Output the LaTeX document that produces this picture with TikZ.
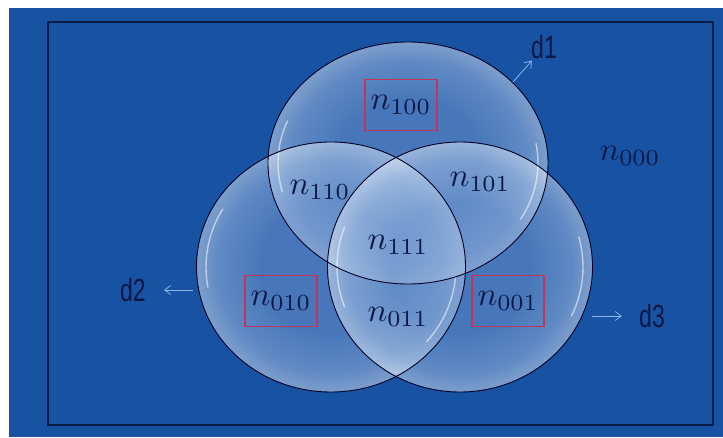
\documentclass[tikz,border=0pt]{standalone}
\usepackage{fontspec}
\newfontfamily\narrowsans[FakeStretch=0.72]{Liberation Sans}
\usetikzlibrary{arrows.meta,calc,shapes.geometric}
\definecolor{bgblue}{RGB}{23,82,163}
\definecolor{framenavy}{RGB}{12,28,72}
\definecolor{inknavy}{RGB}{14,24,70}
\definecolor{boxred}{RGB}{196,52,88}
\definecolor{pointerblue}{RGB}{140,180,232}
\definecolor{bubin}{RGB}{130,165,215}
\definecolor{bubmid}{RGB}{185,206,236}
\definecolor{bubrim}{RGB}{250,252,255}
\pgfdeclareradialshading{bubbleshade}{\pgfpoint{0bp}{0bp}}{color(0bp)=(bubin); color(13bp)=(bubin); color(21bp)=(bubmid); color(25bp)=(bubrim); color(50bp)=(bubrim)}
\newcommand{\nlab}[1]{\scalebox{3.3}{$n_{#1}$}}
\tikzset{bubble/.style={ellipse, inner sep=0pt, shading=bubbleshade, fill opacity=0.45},
  rim/.style={draw=black!85!blue, line width=0.9pt},
  gloss/.style={white, line width=1.4pt, line cap=round, draw opacity=0.55},
  lbl/.style={text=inknavy},
  redbox/.style={lbl, draw=boxred, line width=1.5pt, minimum width=72pt, minimum height=51pt, inner sep=0pt},
  dlab/.style={text=inknavy, inner sep=1pt, font=\narrowsans\fontsize{32}{32}\selectfont},
  pointer/.style={pointerblue, line width=0.8pt, -{Straight Barb[length=6pt,width=9pt]}}}

\begin{document}
\begin{tikzpicture}[x=1pt, y=1pt]
  \useasboundingbox (0,0) rectangle (723,437);
  \fill[bgblue] (9,0) rectangle (723,429);
  \draw[framenavy, line width=1.3pt] (48,12) rectangle (713,415);
  % the three sets
  \node[bubble, minimum width=280pt, minimum height=242pt] (d1set) at (408,274) {};
  \node[bubble, minimum width=269pt, minimum height=250pt] (d2set) at (331,170) {};
  \node[bubble, minimum width=265pt, minimum height=250pt] (d3set) at (460,170) {};
  % glints
  \draw[gloss] ($(d1set)+(158:130 and 112)$) arc[start angle=158, end angle=195, x radius=130, y radius=112];
  \draw[gloss] ($(d1set)+(-30:130 and 112)$) arc[start angle=-30, end angle=10, x radius=130, y radius=112];
  \draw[gloss] ($(d2set)+(150:125 and 116)$) arc[start angle=150, end angle=190, x radius=125, y radius=116];
  \draw[gloss] ($(d2set)+(-40:125 and 116)$) arc[start angle=-40, end angle=-5, x radius=125, y radius=116];
  \draw[gloss] ($(d3set)+(160:123 and 116)$) arc[start angle=160, end angle=200, x radius=123, y radius=116];
  \draw[gloss] ($(d3set)+(-25:123 and 116)$) arc[start angle=-25, end angle=15, x radius=123, y radius=116];
  % outlines
  \draw[rim] (d1set) ellipse [x radius=140, y radius=121];
  \draw[rim] (d2set) ellipse [x radius=134.5, y radius=125];
  \draw[rim] (d3set) ellipse [x radius=132.5, y radius=125];
  % region labels
  \node[redbox] (n100) at (401,332) {\nlab{100}};
  \node[lbl] (n000) at (630,281) {\nlab{000}};
  \node[lbl] (n110) at (320,247) {\nlab{110}};
  \node[lbl] (n101) at (480,255) {\nlab{101}};
  \node[lbl] (n111) at (398,192) {\nlab{111}};
  \node[redbox] (n010) at (281,136) {\nlab{010}};
  \node[lbl] (n011) at (398,120) {\nlab{011}};
  \node[redbox] (n001) at (508,136) {\nlab{001}};
  % set names
  \node[dlab] (d1) at (544,390) {d1};
  \node[dlab] (d2) at (133,147) {d2};
  \node[dlab] (d3) at (652,121) {d3};
  \coordinate (d1tail) at (513,355);
  \coordinate (d2tail) at (193,147);
  \coordinate (d3tail) at (592,121);
  \draw[pointer, shorten >=1pt] (d1tail) -- (d1);
  \draw[pointer, shorten >=17pt] (d2tail) -- (d2);
  \draw[pointer, shorten >=16pt] (d3tail) -- (d3);
\end{tikzpicture}
\end{document}
